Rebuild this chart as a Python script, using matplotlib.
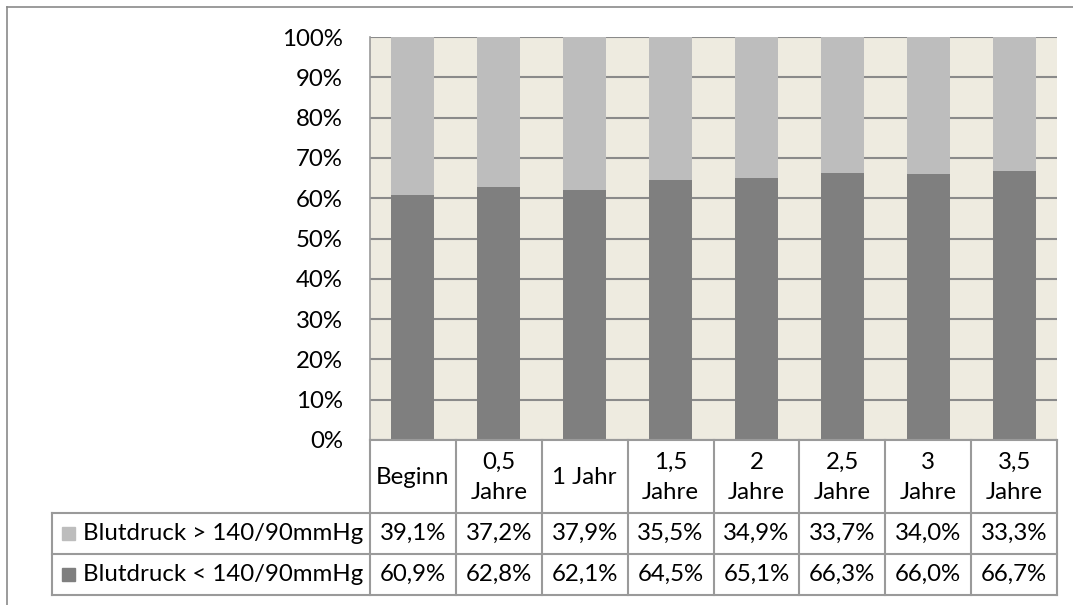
import matplotlib
matplotlib.use("Agg")
import matplotlib.pyplot as plt
from matplotlib.lines import Line2D
from matplotlib.patches import Rectangle

# Data
categories = ["Beginn", "0,5\nJahre", "1 Jahr", "1,5\nJahre", "2\nJahre",
              "2,5\nJahre", "3\nJahre", "3,5\nJahre"]
above_140 = [39.1, 37.2, 37.9, 35.5, 34.9, 33.7, 34.0, 33.3]
below_140 = [60.9, 62.8, 62.1, 64.5, 65.1, 66.3, 66.0, 66.7]
series_labels = ["Blutdruck > 140/90mmHg", "Blutdruck < 140/90mmHg"]
y_ticks = [0, 10, 20, 30, 40, 50, 60, 70, 80, 90, 100]

# Styling
C_LIGHT = "#BDBDBD"
C_DARK = "#7F7F7F"
C_BG = "#EEEBE0"
C_GRID = "#8A8A8A"
C_TABLE = "#9A9A9A"
FONT = "Lato"
FS = 17.3

plt.rcParams["font.family"] = [FONT, "DejaVu Sans"]

W, H = 1073, 605
fig = plt.figure(figsize=(W / 100, H / 100), dpi=100)

# Outer chart border (continues past the right and bottom edges)
fig.add_artist(Line2D([7 / W, 1.0], [1 - 7 / H, 1 - 7 / H], color=C_GRID, lw=1.2))
fig.add_artist(Line2D([7 / W, 7 / W], [0.0, 1 - 7 / H], color=C_GRID, lw=1.2))

# Plot area geometry (pixels)
px_left, px_right = 370, 1057
px_top, px_zero = 37, 440
ax = fig.add_axes([px_left / W, (H - px_zero) / H, (px_right - px_left) / W,
                   (px_zero - px_top) / H])
ax.set_facecolor(C_BG)
n = len(categories)
x = list(range(n))
ax.set_xlim(-0.5, n - 0.5)
ax.set_ylim(0, 100)

ax.bar(x, below_140, width=0.5, color=C_DARK, zorder=3)
ax.bar(x, above_140, width=0.5, bottom=below_140, color=C_LIGHT, zorder=3)

ax.set_yticks(y_ticks)
ax.set_yticklabels([f"{t}%" for t in y_ticks], fontsize=FS)
ax.yaxis.grid(True, color=C_GRID, lw=1.5, zorder=1)
ax.set_axisbelow(True)
ax.tick_params(axis="y", length=0, pad=19.5)
ax.tick_params(axis="x", bottom=False, labelbottom=False)
for s in ["top", "right", "bottom"]:
    ax.spines[s].set_visible(False)
ax.spines["left"].set_color(C_TABLE)
ax.spines["left"].set_linewidth(1.2)

# Data table underneath, sharing the category positions
col_w = (px_right - px_left) / n
lab_left = -0.5 - (px_left - 52) / col_w
tbl_top, tbl_bottom = 440, 595
hdr_h, row_h = 73, 41
tax = fig.add_axes([52 / W, (H - tbl_bottom) / H, (px_right - 52) / W,
                    (tbl_bottom - tbl_top) / H])
tax.set_xlim(lab_left, n - 0.5)
tax.set_ylim(tbl_bottom - tbl_top, 0)
tax.axis("off")

lk = dict(color=C_TABLE, lw=1.5, solid_capstyle="projecting", clip_on=False)
tax.plot([-0.5, n - 0.5], [0, 0], **lk)
for y in (hdr_h, hdr_h + row_h, hdr_h + 2 * row_h):
    tax.plot([lab_left, n - 0.5], [y, y], **lk)
for i in range(n + 1):
    tax.plot([i - 0.5, i - 0.5], [0, hdr_h + 2 * row_h], **lk)
tax.plot([lab_left, lab_left], [hdr_h, hdr_h + 2 * row_h], **lk)

for i, cat in enumerate(categories):
    tax.text(i, hdr_h / 2 + 1, cat, ha="center", va="center", fontsize=FS,
             linespacing=1.5)

rows = [above_140, below_140]
colors = [C_LIGHT, C_DARK]
sw = 13 / col_w
for r, (vals, lab, col) in enumerate(zip(rows, series_labels, colors)):
    yc = hdr_h + row_h * r + row_h / 2
    for i, v in enumerate(vals):
        tax.text(i, yc, f"{v:.1f}%".replace(".", ","), ha="center",
                 va="center", fontsize=FS)
    x0 = lab_left + 10 / col_w
    tax.add_patch(Rectangle((x0, yc - 6.5), sw, 13, color=col, clip_on=False))
    tax.text(lab_left + 31 / col_w, yc, lab, ha="left", va="center",
             fontsize=FS)

fig.savefig("out.png", dpi=100)
